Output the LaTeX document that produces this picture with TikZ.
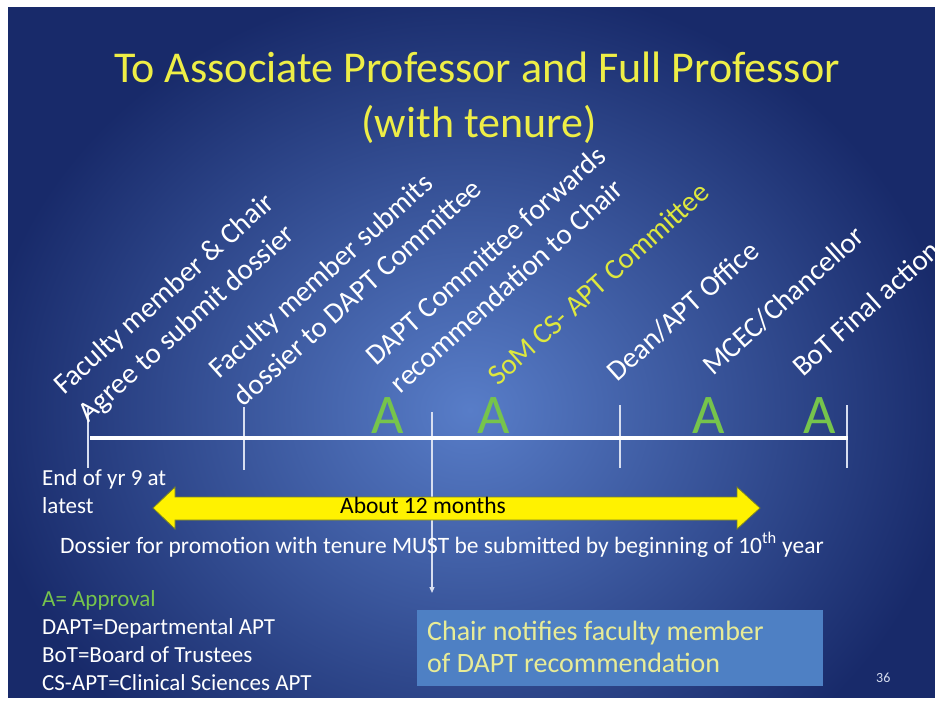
\documentclass[tikz,border=0pt]{standalone}
\usepackage{fontspec}
\setmainfont{Carlito}
\usetikzlibrary{arrows.meta,calc}
\definecolor{bgin}{RGB}{88,125,200}
\definecolor{bgout}{RGB}{24,42,106}
\definecolor{titleyellow}{RGB}{238,238,70}
\definecolor{somyellow}{RGB}{222,232,62}
\definecolor{agreen}{RGB}{118,196,76}
\definecolor{boxblue}{RGB}{78,128,196}
\definecolor{boxtext}{RGB}{232,236,150}
\definecolor{tickgray}{RGB}{215,222,240}
\definecolor{arrowedge}{RGB}{120,130,40}
\tikzset{
  lbl/.style={rotate=42, anchor=base west, inner sep=0pt, text=white, font=\fontsize{29}{34}\selectfont},
  somlbl/.style={lbl, text=somyellow},
  approve/.style={anchor=base, inner sep=0pt, text=agreen, font=\fontsize{56}{60}\selectfont},
  titletxt/.style={anchor=base, inner sep=0pt, text=titleyellow, font=\fontsize{44}{52}\selectfont},
  bodytxt/.style={anchor=base west, inner sep=0pt, text=white, font=\fontsize{23}{28}\selectfont},
  boxtxt/.style={anchor=base west, inner sep=0pt, text=boxtext, font=\fontsize{28}{32}\selectfont},
  tickline/.style={draw=tickgray, line width=1.2pt},
  timeline/.style={draw=white, line width=4pt},
  yarrow/.style={fill=yellow, draw=arrowedge, line width=0.8pt, line join=miter},
  notebox/.style={rectangle, fill=boxblue, inner sep=0pt, minimum width=406pt, minimum height=76pt}
}
\begin{document}
\begin{tikzpicture}[x=1pt,y=-1pt]
\useasboundingbox (0,0) rectangle (935,705);
\fill[white] (0,0) rectangle (935,705);
\begin{scope}
  \clip (8,7) rectangle (935,697);
  \shade[inner color=bgin, outer color=bgout] (-20,-20) rectangle (960,840);
\end{scope}

% title
\node[titletxt] (title1) at (477,82) {To Associate Professor and Full Professor};
\node[titletxt] (title2) at (479,137) {(with tenure)};

% coordinates of timeline and ticks
\coordinate (tlL) at (90,438);
\coordinate (tlR) at (848,438);
\coordinate (t1a) at (88,408);  \coordinate (t1b) at (88,468);
\coordinate (t2a) at (244,407); \coordinate (t2b) at (244,470);
\coordinate (t3a) at (432,412); \coordinate (t3b) at (432,593);
\coordinate (t4a) at (620,405); \coordinate (t4b) at (620,468);
\coordinate (t5a) at (847,405); \coordinate (t5b) at (847,468);

\draw[tickline] (t1a) -- (t1b);
\draw[tickline] (t2a) -- (t2b);
\draw[tickline] (t4a) -- (t4b);
\draw[tickline] (t5a) -- (t5b);
\draw[tickline, -{Triangle[length=6pt,width=5pt]}] (t3a) -- (t3b);
\draw[timeline] (tlL) -- (tlR);

% rotated labels
\node[lbl] (l1a) at (64,396) {Faculty member \& Chair};
\node[lbl] (l1b) at ($(l1a.base west)+(-48:37pt)$) {Agree to submit dossier};
\node[lbl] (l2a) at (219,380) {Faculty member submits};
\node[lbl] (l2b) at ($(l2a.base west)+(-48:37pt)$) {dossier to DAPT Committee};
\node[lbl] (l3a) at (376,367) {DAPT Committee forwards};
\node[lbl] (l3b) at ($(l3a.base west)+(-48:37pt)$) {recommendation to Chair};
\node[somlbl] (l4) at (498,387) {SoM CS- APT Committee};
\node[lbl] (l5) at (617,383) {Dean/APT Office};
\node[lbl] (l6) at (713,377) {MCEC/Chancellor};
\node[lbl] (l7) at (803,378) {BoT Final action};

% approvals
\node[approve] (a1) at (388,433) {A};
\node[approve] (a2) at (494,433) {A};
\node[approve] (a3) at (709,433) {A};
\node[approve] (a4) at (820,433) {A};

% end of year 9
\node[bodytxt] (end1) at (42,485) {End of yr 9 at};
\node[bodytxt] (end2) at (42,513) {latest};

% yellow double arrow
\draw[yarrow] (153,508) -- (175,487) -- (175,497) -- (737,497) -- (737,487) -- (760,508)
  -- (737,529) -- (737,520) -- (175,520) -- (175,529) -- cycle;
\node[anchor=base, inner sep=0pt, text=black, font=\fontsize{23.5}{28}\selectfont] (months) at (423,513) {About 12 months};

% dossier sentence
\node[bodytxt, font=\fontsize{23.5}{28}\selectfont] (dossier) at (60,553) {Dossier for promotion with tenure MUST be submitted by beginning of 10\textsuperscript{th} year};

% legend
\node[bodytxt, text=agreen] (leg1) at (42,606) {A= Approval};
\node[bodytxt] (leg2) at (42,634) {DAPT=Departmental APT};
\node[bodytxt] (leg3) at (42,662) {BoT=Board of Trustees};
\node[bodytxt] (leg4) at (42,690) {CS-APT=Clinical Sciences APT};

% box
\node[notebox] (notify) at (620,648) {};
\node[boxtxt] (notify1) at (427,640) {Chair notifies faculty member};
\node[boxtxt] (notify2) at (427,672) {of DAPT recommendation};

% slide number
\node[anchor=base west, inner sep=0pt, text=tickgray, font=\fontsize{14}{16}\selectfont] (num) at (876,682) {36};
\end{tikzpicture}
\end{document}
